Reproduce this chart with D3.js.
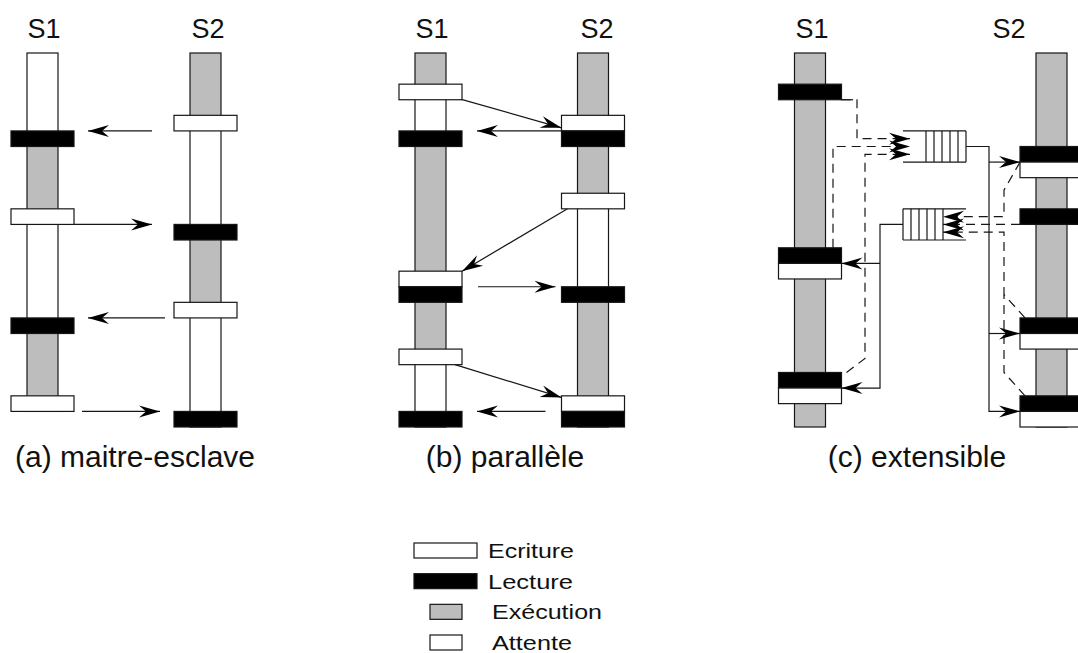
<!DOCTYPE html>
<html>
<head>
<meta charset="utf-8">
<script src="https://cdn.jsdelivr.net/npm/d3@7"></script>
<style>
  body { margin: 0; background: #fff; }
  text { font-family: "Liberation Sans", Arial, Helvetica, sans-serif; fill: #111; }
</style>
</head>
<body>
<div id="chart"></div>
<script>
// ---------- data (time units along each process column) ----------
const panels = ['a', 'b', 'c'];
const captions = ['(a) maitre-esclave', '(b) parallèle', '(c) extensible'];
const lanes = ['S1', 'S2'];

// column length per lane [panel, lane, end]
const columns = [
  ['a', 'S1', 23], ['a', 'S2', 24],
  ['b', 'S1', 24], ['b', 'S2', 24],
  ['c', 'S1', 24], ['c', 'S2', 24]
];

// state of each column [panel, lane, state, start, end]
const segments = [
  ['a', 'S1', 'attente', 0, 5], ['a', 'S1', 'exec', 6, 10], ['a', 'S1', 'attente', 11, 17], ['a', 'S1', 'exec', 18, 22],
  ['a', 'S2', 'exec', 0, 4], ['a', 'S2', 'attente', 5, 11], ['a', 'S2', 'exec', 12, 16], ['a', 'S2', 'attente', 17, 23],
  ['b', 'S1', 'exec', 0, 2], ['b', 'S1', 'attente', 3, 5], ['b', 'S1', 'exec', 6, 14], ['b', 'S1', 'exec', 16, 19], ['b', 'S1', 'attente', 20, 23],
  ['b', 'S2', 'exec', 0, 4], ['b', 'S2', 'exec', 6, 9], ['b', 'S2', 'attente', 10, 15], ['b', 'S2', 'exec', 16, 22],
  ['c', 'S1', 'exec', 0, 24], ['c', 'S2', 'exec', 0, 24]
];

// read / write operations [panel, lane, kind, start]
const bars = [
  ['a', 'S1', 'lecture', 5], ['a', 'S1', 'ecriture', 10], ['a', 'S1', 'lecture', 17], ['a', 'S1', 'ecriture', 22],
  ['a', 'S2', 'ecriture', 4], ['a', 'S2', 'lecture', 11], ['a', 'S2', 'ecriture', 16], ['a', 'S2', 'lecture', 23],
  ['b', 'S1', 'ecriture', 2], ['b', 'S1', 'lecture', 5], ['b', 'S1', 'ecriture', 14], ['b', 'S1', 'lecture', 15],
  ['b', 'S1', 'ecriture', 19], ['b', 'S1', 'lecture', 23],
  ['b', 'S2', 'ecriture', 4], ['b', 'S2', 'lecture', 5], ['b', 'S2', 'ecriture', 9], ['b', 'S2', 'lecture', 15],
  ['b', 'S2', 'ecriture', 22], ['b', 'S2', 'lecture', 23],
  ['c', 'S1', 'lecture', 2], ['c', 'S1', 'lecture', 12.5], ['c', 'S1', 'ecriture', 13.5],
  ['c', 'S1', 'lecture', 20.5], ['c', 'S1', 'ecriture', 21.5],
  ['c', 'S2', 'lecture', 6], ['c', 'S2', 'ecriture', 7], ['c', 'S2', 'lecture', 10],
  ['c', 'S2', 'lecture', 17], ['c', 'S2', 'ecriture', 18], ['c', 'S2', 'lecture', 22], ['c', 'S2', 'ecriture', 23]
];

// messages between the two processes [panel, from, tFrom, to, tTo]
const messages = [
  ['a', 'S2', 5, 'S1', 5], ['a', 'S1', 11, 'S2', 11], ['a', 'S2', 17, 'S1', 17], ['a', 'S1', 23, 'S2', 23],
  ['b', 'S1', 2.9, 'S2', 4.8], ['b', 'S2', 5, 'S1', 5], ['b', 'S2', 10, 'S1', 14],
  ['b', 'S1', 15, 'S2', 15], ['b', 'S1', 20, 'S2', 22.1], ['b', 'S2', 23, 'S1', 23]
];

// message queues of panel (c) [tTop, tBottom, slots, open side]
const queues = [[5, 7, 5, 'left'], [10, 12, 5, 'right']];

// panel (c) links: points are [guide, t]
const solidLinks = [
  [['q1R', 6], ['busR', 6], ['busR', 23], ['s2L', 23]],
  [['busR', 7], ['s2L', 7]],
  [['busR', 18], ['s2L', 18]],
  [['q2L', 11], ['busL', 11], ['busL', 21.5], ['s1R', 21.5]],
  [['busL', 13.5], ['s1R', 13.5]]
];
const dashedLinks = [
  [['s1R', 3], ['d1', 3], ['d1', 5.5], ['q1tip', 5.5]],
  [['d2', 12.5], ['d2', 6], ['q1tip', 6]],
  [['s1Rb', 20.5], ['d3', 19.6], ['d3', 6.5], ['q1tip', 6.5]],
  [['s2L', 7], ['d4', 8.8], ['d4', 10.5], ['q2tip', 10.5]],
  [['s2L', 11], ['q2tip', 11]],
  [['s2Lb', 17], ['d4', 15.5], ['d4', 11.5], ['q2tip', 11.5]],
  [['s2Lb', 22], ['d4', 20.5], ['d4', 15.5]]
];

const legendLabels = ['Ecriture', 'Lecture', 'Exécution', 'Attente'];
const legendKinds = ['ecriture', 'lecture', 'exec', 'attente'];

// ---------- layout ----------
const W = 1078, H = 653;
const colW = 31, barW = 63;
const ink = '#161616';
const fills = { exec: '#bdbdbd', attente: '#ffffff', ecriture: '#ffffff', lecture: '#000000' };

const y = d3.scaleLinear().domain([0, 24]).range([53, 427]);
const laneX = d3.scaleOrdinal()
  .domain(['a:S1', 'a:S2', 'b:S1', 'b:S2', 'c:S1', 'c:S2'])
  .range([42.5, 205.5, 430.5, 593, 810, 1051.5]);
const lx = (p, l) => laneX(p + ':' + l);
const laneLabelX = d3.scaleOrdinal()
  .domain(['a:S1', 'a:S2', 'b:S1', 'b:S2', 'c:S1', 'c:S2'])
  .range([44, 208, 432, 597, 812, 1009]);
const captionX = d3.scaleOrdinal().domain(panels).range([135, 505, 917]);

// pixel gaps between arrow ends and the bars they join
const messageGaps = [[22, 14], [0, 22], [9, 14], [8, 14], [-5, 0], [0, 15], [-6, 0], [16, 6], [-7, 0], [16, 15]];

const guides = {
  s1R: lx('c', 'S1') + barW / 2, s1Rb: lx('c', 'S1') + barW / 2 + 5,
  s2L: lx('c', 'S2') - barW / 2, s2Lb: lx('c', 'S2') - barW / 2 + 5,
  d1: 857, d2: 833, d3: 865, d4: 1004,
  busL: 880, busR: 989,
  q1L: 903, q1R: 966, q2L: 903, q2R: 966,
  q1tip: 910, q2tip: 943
};
const queueX = [903, 966];
const slotStep = 8;

// ---------- drawing ----------
const svg = d3.select('#chart').append('svg')
  .attr('width', W).attr('height', H)
  .style('display', 'block');

svg.append('defs').append('marker')
  .attr('id', 'head')
  .attr('viewBox', '-22 -7 23 14')
  .attr('refX', 0).attr('refY', 0)
  .attr('markerWidth', 23).attr('markerHeight', 14)
  .attr('markerUnits', 'userSpaceOnUse')
  .attr('orient', 'auto')
  .append('path')
    .attr('d', 'M0,0 L-21,-6 L-14,0 L-21,6 Z')
    .attr('fill', '#000');

// lane labels
svg.selectAll('.lane-label')
  .data(columns)
  .join('text')
    .attr('class', 'lane-label')
    .attr('x', d => laneLabelX(d[0] + ':' + d[1]))
    .attr('y', 38)
    .attr('text-anchor', 'middle')
    .style('font-size', '27px')
    .text(d => d[1]);

// column background and states
svg.selectAll('.col-bg')
  .data(columns)
  .join('rect')
    .attr('x', d => lx(d[0], d[1]) - colW / 2)
    .attr('y', y(0))
    .attr('width', colW)
    .attr('height', d => y(d[2]) - y(0))
    .attr('fill', '#fff');

svg.selectAll('.seg')
  .data(segments)
  .join('rect')
    .attr('x', d => lx(d[0], d[1]) - colW / 2)
    .attr('y', d => y(d[3]))
    .attr('width', colW)
    .attr('height', d => y(d[4]) - y(d[3]))
    .attr('fill', d => fills[d[2]]);

svg.selectAll('.col-outline')
  .data(columns)
  .join('rect')
    .attr('x', d => lx(d[0], d[1]) - colW / 2)
    .attr('y', y(0))
    .attr('width', colW)
    .attr('height', d => y(d[2]) - y(0))
    .attr('fill', 'none')
    .attr('stroke', ink)
    .attr('stroke-width', 1.2);

// messages (a) and (b)
svg.selectAll('.msg')
  .data(messages)
  .join('line')
    .each(function(d, i) {
      const x0 = lx(d[0], d[1]), x1 = lx(d[0], d[3]);
      const dir = Math.sign(x1 - x0);
      const g = messageGaps[i];
      d3.select(this)
        .attr('x1', x0 + dir * (barW / 2 + g[0]))
        .attr('y1', y(d[2]))
        .attr('x2', x1 - dir * (barW / 2 + g[1]))
        .attr('y2', y(d[4]));
    })
    .attr('stroke', ink)
    .attr('stroke-width', 1.2)
    .attr('marker-end', 'url(#head)');

// panel (c) links
const linkLine = d3.line().x(p => guides[p[0]]).y(p => y(p[1]));

svg.selectAll('.dash')
  .data(dashedLinks)
  .join('path')
    .attr('d', linkLine)
    .attr('fill', 'none')
    .attr('stroke', ink)
    .attr('stroke-width', 1.2)
    .attr('stroke-dasharray', '9,6')
    .attr('marker-end', (d, i) => i === dashedLinks.length - 1 ? null : 'url(#head)');

svg.selectAll('.solid')
  .data(solidLinks)
  .join('path')
    .attr('d', linkLine)
    .attr('fill', 'none')
    .attr('stroke', ink)
    .attr('stroke-width', 1.2)
    .attr('marker-end', 'url(#head)');

// short solid tail from first S1 read
svg.append('line')
  .attr('x1', guides.s1R).attr('y1', y(3))
  .attr('x2', guides.d1 - 4).attr('y2', y(3))
  .attr('stroke', ink).attr('stroke-width', 1.2);

// queues
queues.forEach(q => {
  const g = svg.append('g');
  [q[0], q[1]].forEach(t => {
    g.append('line')
      .attr('x1', queueX[0]).attr('x2', queueX[1])
      .attr('y1', y(t)).attr('y2', y(t))
      .attr('stroke', ink).attr('stroke-width', 1.2);
  });
  const slots = d3.range(q[2] + 1).map(k =>
    q[3] === 'left' ? queueX[1] - k * slotStep : queueX[0] + k * slotStep);
  g.selectAll('line.slot')
    .data(slots)
    .join('line')
      .attr('class', 'slot')
      .attr('x1', d => d).attr('x2', d => d)
      .attr('y1', y(q[0])).attr('y2', y(q[1]))
      .attr('stroke', ink).attr('stroke-width', 1.2);
});

// read / write bars
svg.selectAll('.bar')
  .data(bars)
  .join('rect')
    .attr('x', d => lx(d[0], d[1]) - barW / 2)
    .attr('y', d => y(d[3]))
    .attr('width', barW)
    .attr('height', d => y(d[3] + 1) - y(d[3]))
    .attr('fill', d => fills[d[2]])
    .attr('stroke', ink)
    .attr('stroke-width', 1.2);

// captions
svg.selectAll('.caption')
  .data(panels)
  .join('text')
    .attr('x', d => captionX(d))
    .attr('y', 467)
    .attr('text-anchor', 'middle')
    .style('font-size', '30px')
    .text((d, i) => captions[i]);

// legend
const legendRowY = d3.scalePoint().domain(legendKinds).range([543, 635]);
const legendWidths = [86, 85, 110, 80];
const legend = svg.append('g');
legend.selectAll('rect')
  .data(legendKinds)
  .join('rect')
    .attr('x', (d, i) => i < 2 ? 414 : 430)
    .attr('y', d => legendRowY(d))
    .attr('width', (d, i) => i < 2 ? barW : 32)
    .attr('height', 15)
    .attr('fill', d => fills[d])
    .attr('stroke', ink)
    .attr('stroke-width', 1.2);
legend.selectAll('text')
  .data(legendKinds)
  .join('text')
    .attr('x', (d, i) => i < 2 ? 488 : 492)
    .attr('y', d => legendRowY(d) + 15)
    .attr('textLength', (d, i) => legendWidths[i])
    .attr('lengthAdjust', 'spacingAndGlyphs')
    .style('font-size', '21px')
    .text((d, i) => legendLabels[i]);
</script>
</body>
</html>
